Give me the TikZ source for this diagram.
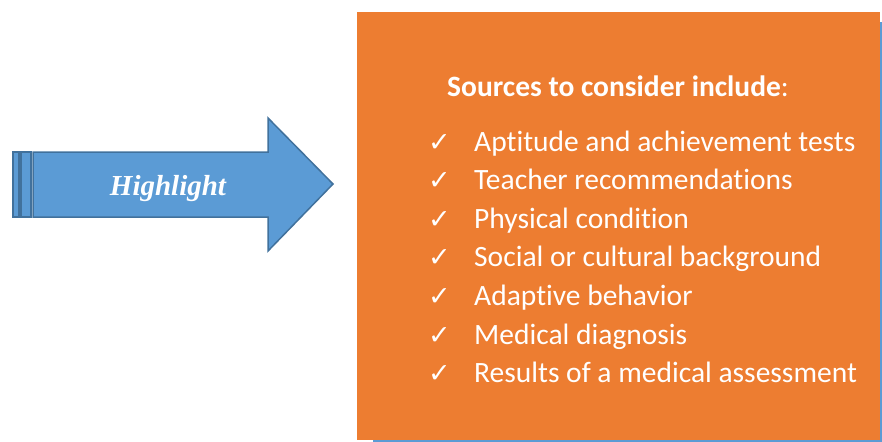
\documentclass[tikz,border=0pt]{standalone}
\usepackage{fontspec}
\setmainfont{Liberation Serif}
\newfontfamily\bodyfont[Ligatures=NoCommon]{Carlito}
\newfontfamily\tickfont{DejaVu Sans}
\definecolor{arrowblue}{HTML}{5B9BD5}
\definecolor{arrowedge}{HTML}{41719C}
\definecolor{boxorange}{HTML}{ED7D31}
\tikzset{
    itemtext/.style = {font = {\bodyfont\fontsize{29.5}{32}\selectfont}, white, anchor=base west, inner sep=0pt},
    ticktext/.style = {font = {\tickfont\fontsize{27}{30}\selectfont}, white, anchor=base west, inner sep=0pt}
}
\begin{document}
\begin{tikzpicture}[x=1pt, y=-1pt]
    \useasboundingbox (0,0) rectangle (882,441);
    % arrow on the left
    \filldraw[fill=arrowblue, draw=arrowedge, line width=1.5pt] (13,152) rectangle (19,217);
    \filldraw[fill=arrowblue, draw=arrowedge, line width=1.5pt] (21,152) rectangle (31,217);
    \filldraw[fill=arrowblue, draw=arrowedge, line width=1.5pt, line join=miter]
            (33,152) -- (268,152) -- (268,118) -- (333,184)
            -- (268,251) -- (268,217) -- (33,217) -- cycle;
    \node[font = {\fontsize{29}{32}\selectfont\bfseries\itshape}, white] (hl) at (168,189) {Highlight};
    % orange panel with its blue edge behind
    \fill[arrowblue] (373,22) rectangle (892,451);
    \fill[boxorange] (357,12) rectangle (880,440);
    \node[itemtext] (title) at (447,96) {\textbf{Sources to consider include}:};
    \foreach \txt [count=\i] in {Aptitude and achievement tests, Teacher recommendations,
            Physical condition, Social or cultural background, Adaptive behavior,
            Medical diagnosis, Results of a medical assessment}
    {
        \node[ticktext] (tick\i) at (428,151+38.6*\i-38.6) {✓};
        \node[itemtext] (item\i) at (474,151+38.6*\i-38.6) {\txt};
    }
\end{tikzpicture}
\end{document}
